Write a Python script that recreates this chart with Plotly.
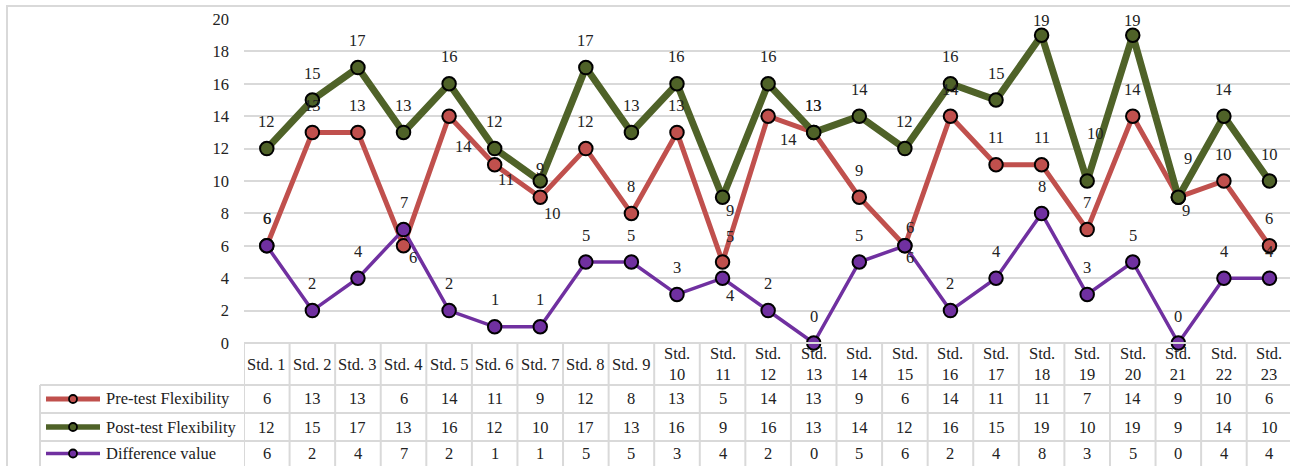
import plotly.graph_objects as go

# ---------------- data ----------------
categories = ["Std. 1", "Std. 2", "Std. 3", "Std. 4", "Std. 5", "Std. 6", "Std. 7", "Std. 8",
              "Std. 9", "Std. 10", "Std. 11", "Std. 12", "Std. 13", "Std. 14", "Std. 15",
              "Std. 16", "Std. 17", "Std. 18", "Std. 19", "Std. 20", "Std. 21", "Std. 22", "Std. 23"]
pre_test = [6, 13, 13, 6, 14, 11, 9, 12, 8, 13, 5, 14, 13, 9, 6, 14, 11, 11, 7, 14, 9, 10, 6]
post_test = [12, 15, 17, 13, 16, 12, 10, 17, 13, 16, 9, 16, 13, 14, 12, 16, 15, 19, 10, 19, 9, 14, 10]
difference = [6, 2, 4, 7, 2, 1, 1, 5, 5, 3, 4, 2, 0, 5, 6, 2, 4, 8, 3, 5, 0, 4, 4]
series_names = ["Pre-test Flexibility", "Post-test Flexibility", "Difference value"]
y_ticks = [0, 2, 4, 6, 8, 10, 12, 14, 16, 18, 20]

# ---------------- styles ----------------
colors = ["#C0504D", "#4F6228", "#7030A0"]
line_widths = [5, 7, 3.5]
FONT = "Liberation Serif"
FS = 16.5
TXT = "#222222"
GRID = "#d9d9d9"

# label offsets (px) by point index; default above the point
default_shift = (0, 27)
label_shifts = [
    {3: (9, -12), 4: (14, -30), 5: (11, -15), 6: (0, 29), 10: (7, 26), 11: (20, -23),
     14: (5, 18), 20: (8, -13)},
    {6: (12, -32), 10: (7, -13), 17: (0, 15), 18: (8, 48), 19: (0, 15), 20: (10, 39)},
    {10: (7, -17), 14: (5, -12)},
]

W, H = 1290, 466
L, R, T, B = 244, 0, 19, 123
PW, PH = W - L - R, H - T - B


def px_x(px):
    return (px - L) / PW


def px_y(py):
    return (H - B - py) / PH


series = [pre_test, post_test, difference]
xs = list(range(len(categories)))

fig = go.Figure()
for k, vals in enumerate(series):
    fig.add_trace(go.Scatter(
        x=xs, y=vals, mode="lines+markers", name=series_names[k],
        line=dict(color=colors[k], width=line_widths[k]),
        marker=dict(size=13.5, color=colors[k], line=dict(color="#000000", width=2)),
        cliponaxis=False, showlegend=False, hoverinfo="x+y",
    ))

tfont = dict(family=FONT, size=FS, color=TXT)
annotations = []
# data labels
for k, vals in enumerate(series):
    for i, v in enumerate(vals):
        dx, dy = label_shifts[k].get(i, default_shift)
        annotations.append(dict(
            x=i, y=v, xref="x", yref="y", text=str(v), showarrow=False,
            xanchor="center", yanchor="middle",
            xshift=dx, yshift=dy, font=tfont))

# table header (category names)
for i, c in enumerate(categories):
    label = c if len(c) <= 6 else c.replace(" ", "<br>")
    annotations.append(dict(
        x=i, y=px_y(364), xref="x", yref="paper", text=label, showarrow=False,
        xanchor="center", yanchor="middle", align="center", font=tfont))

row_centers = [399, 427, 453.5]
for k, vals in enumerate(series):
    yc = px_y(row_centers[k])
    for i, v in enumerate(vals):
        annotations.append(dict(
            x=i, y=yc, xref="x", yref="paper", text=str(v), showarrow=False,
            xanchor="center", yanchor="middle", font=tfont))
    annotations.append(dict(
        x=px_x(104), y=yc, xref="paper", yref="paper", text=series_names[k],
        showarrow=False, xanchor="left", yanchor="middle", font=tfont))

shapes = []
# outer chart border
shapes.append(dict(type="rect", xref="paper", yref="paper",
                   x0=px_x(7), x1=px_x(1320), y0=px_y(490), y1=px_y(6),
                   line=dict(color=GRID, width=2), layer="below"))
# table horizontal lines
shapes.append(dict(type="line", xref="paper", yref="paper",
                   x0=px_x(244), x1=px_x(1300), y0=px_y(343), y1=px_y(343),
                   line=dict(color=GRID, width=2)))
for py in [385, 413, 441]:
    shapes.append(dict(type="line", xref="paper", yref="paper",
                       x0=px_x(40), x1=px_x(1300), y0=px_y(py), y1=px_y(py),
                       line=dict(color=GRID, width=2)))
# table vertical lines
shapes.append(dict(type="line", xref="paper", yref="paper",
                   x0=px_x(40), x1=px_x(40), y0=px_y(385), y1=px_y(480),
                   line=dict(color=GRID, width=2)))
for i in range(len(categories) + 1):
    shapes.append(dict(type="line", xref="x", yref="paper",
                       x0=i - 0.5, x1=i - 0.5, y0=px_y(343), y1=px_y(480),
                       line=dict(color=GRID, width=2)))
# legend keys
for k in range(3):
    yc = px_y(row_centers[k])
    shapes.append(dict(type="line", xref="paper", yref="paper",
                       x0=px_x(46), x1=px_x(100), y0=yc, y1=yc,
                       line=dict(color=colors[k], width=line_widths[k] if k != 1 else 5.5)))
    shapes.append(dict(type="circle", xref="paper", yref="paper",
                       x0=px_x(69), x1=px_x(77), y0=px_y(row_centers[k] + 4), y1=px_y(row_centers[k] - 4),
                       fillcolor=colors[k], line=dict(color="#000000", width=1.8)))

fig.update_layout(
    width=W, height=H,
    margin=dict(l=L, r=R, t=T, b=B, pad=0),
    paper_bgcolor="white", plot_bgcolor="white",
    font=tfont,
    xaxis=dict(range=[-0.5, 22.45], showticklabels=False, showgrid=False,
               zeroline=False, showline=False, ticks=""),
    yaxis=dict(range=[0, 20], tickvals=y_ticks, showgrid=True, gridcolor=GRID, gridwidth=2,
               zeroline=False, showline=False, ticks="", ticklabelstandoff=14,
               tickfont=tfont),
    annotations=annotations,
    shapes=shapes,
    showlegend=False,
)

fig.write_html("out.html", config={"displayModeBar": False},
               post_script="document.body.style.margin='0px';document.body.style.overflow='hidden';")
